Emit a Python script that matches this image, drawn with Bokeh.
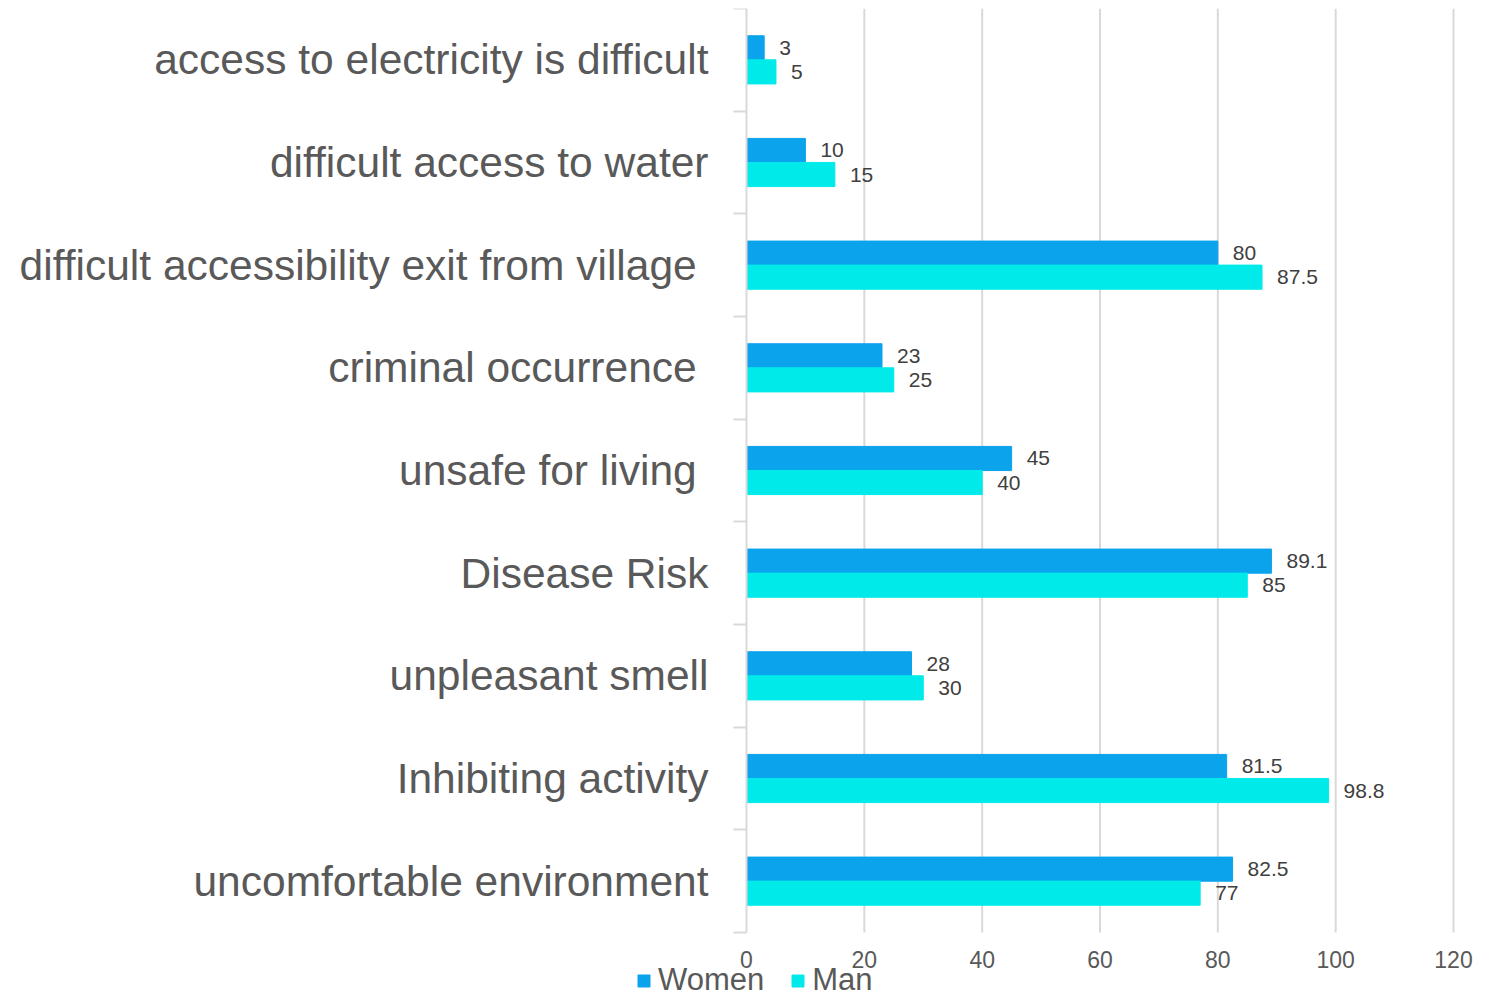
from bokeh.plotting import figure
from bokeh.models import ColumnDataSource, FixedTicker, Range1d, Legend, LegendItem
from bokeh.core.properties import value
from bokeh.embed import file_html
from bokeh.resources import INLINE

categories = [
    "access to electricity is difficult",
    "difficult access to water",
    "difficult accessibility exit from village ",
    "criminal occurrence ",
    "unsafe for living ",
    "Disease Risk",
    "unpleasant smell",
    "Inhibiting activity",
    "uncomfortable environment",
]
women = [3, 10, 80, 23, 45, 89.1, 28, 81.5, 82.5]
man = [5, 15, 87.5, 25, 40, 85, 30, 98.8, 77]
x_ticks = [0, 20, 40, 60, 80, 100, 120]
series_names = ["Women", "Man"]

FONT = "Liberation Sans"
WOMEN_C = "#0BA3EC"
MAN_C = "#00EAEA"
GRID_C = "#D9D9D9"

W, H = 1496, 998
TOP = 8
X0_PX, X120_PX = 746, 1453          # pixel positions of value 0 and 120
CAT_BOTTOM_PX = 932                 # pixel position of the category block bottom

n = len(categories)
centers = [n - i - 0.5 for i in range(n)]
off = 0.117
bh = 0.235

# the frame covers the whole canvas (below the top margin); ranges map values
# so that 0..120 spans the same pixels as the reference chart
ux = (X120_PX - X0_PX) / 120.0
uy = (CAT_BOTTOM_PX - TOP) / float(n)
x_range = Range1d(-X0_PX / ux, (W - X0_PX) / ux)
y_range = Range1d(n - (H - TOP) / uy, n)

src_w = ColumnDataSource(dict(y=[c + off for c in centers], v=women,
                              lab=[f"{v:g}" for v in women]))
src_m = ColumnDataSource(dict(y=[c - off for c in centers], v=man,
                              lab=[f"{v:g}" for v in man]))
src_g = ColumnDataSource(dict(x=x_ticks[1:], y0=[0] * (len(x_ticks) - 1),
                              y1=[n] * (len(x_ticks) - 1)))

p = figure(width=W, height=H, frame_width=W, frame_height=H - TOP,
           output_backend="svg", toolbar_location=None,
           x_range=x_range, y_range=y_range,
           min_border_left=0, min_border_right=0, min_border_top=TOP,
           min_border_bottom=0)
p.outline_line_color = None
p.xgrid.grid_line_color = None
p.ygrid.grid_line_color = None

# vertical gridlines (only over the category block)
p.segment(x0="x", x1="x", y0="y0", y1="y1", source=src_g,
          line_color=GRID_C, line_width=2)

rw = p.hbar(y="y", right="v", left=0, height=bh, source=src_w, color=WOMEN_C)
rm = p.hbar(y="y", right="v", left=0, height=bh, source=src_m, color=MAN_C)

for src in (src_w, src_m):
    p.text(x="v", y="y", text="lab", source=src, x_offset=15,
           text_baseline="middle", text_align="left",
           text_font=value(FONT), text_font_size="21px", text_color="#404040")

# x axis pinned at the bottom of the category block
xax = p.xaxis[0]
xax.fixed_location = 0
xax.ticker = FixedTicker(ticks=x_ticks)
xax.axis_line_color = None
xax.major_tick_line_color = None
xax.minor_tick_line_color = None
xax.major_tick_out = 0
xax.major_tick_in = 0
xax.major_label_text_font = FONT
xax.major_label_text_font_size = "23px"
xax.major_label_text_color = "#595959"
xax.major_label_standoff = 18

# y axis pinned at value 0: labels at centers, ticks at category boundaries
yax = p.yaxis[0]
yax.fixed_location = 0
yax.bounds = (0, n)
yax.ticker = FixedTicker(ticks=centers, minor_ticks=list(range(n + 1)))
yax.major_label_overrides = {c: categories[i] for i, c in enumerate(centers)}
yax.major_tick_line_color = None
yax.major_tick_out = 0
yax.major_tick_in = 0
yax.minor_tick_out = 13
yax.minor_tick_in = 0
yax.minor_tick_line_color = GRID_C
yax.minor_tick_line_width = 2
yax.axis_line_color = GRID_C
yax.axis_line_width = 2
yax.major_label_standoff = 25
yax.major_label_text_font = FONT
yax.major_label_text_font_size = "42.5px"
yax.major_label_text_color = "#595959"

legend = Legend(items=[LegendItem(label=series_names[0], renderers=[rw]),
                       LegendItem(label=series_names[1], renderers=[rm])],
                orientation="horizontal", location=(636, 0),
                padding=0, margin=0, spacing=26, label_standoff=7,
                glyph_width=15, glyph_height=15, label_height=20,
                label_text_font=FONT, label_text_font_size="31px",
                label_text_color="#595959",
                border_line_color=None, background_fill_alpha=0)
p.add_layout(legend, "center")

open("out.html", "w").write(file_html(p, INLINE))
